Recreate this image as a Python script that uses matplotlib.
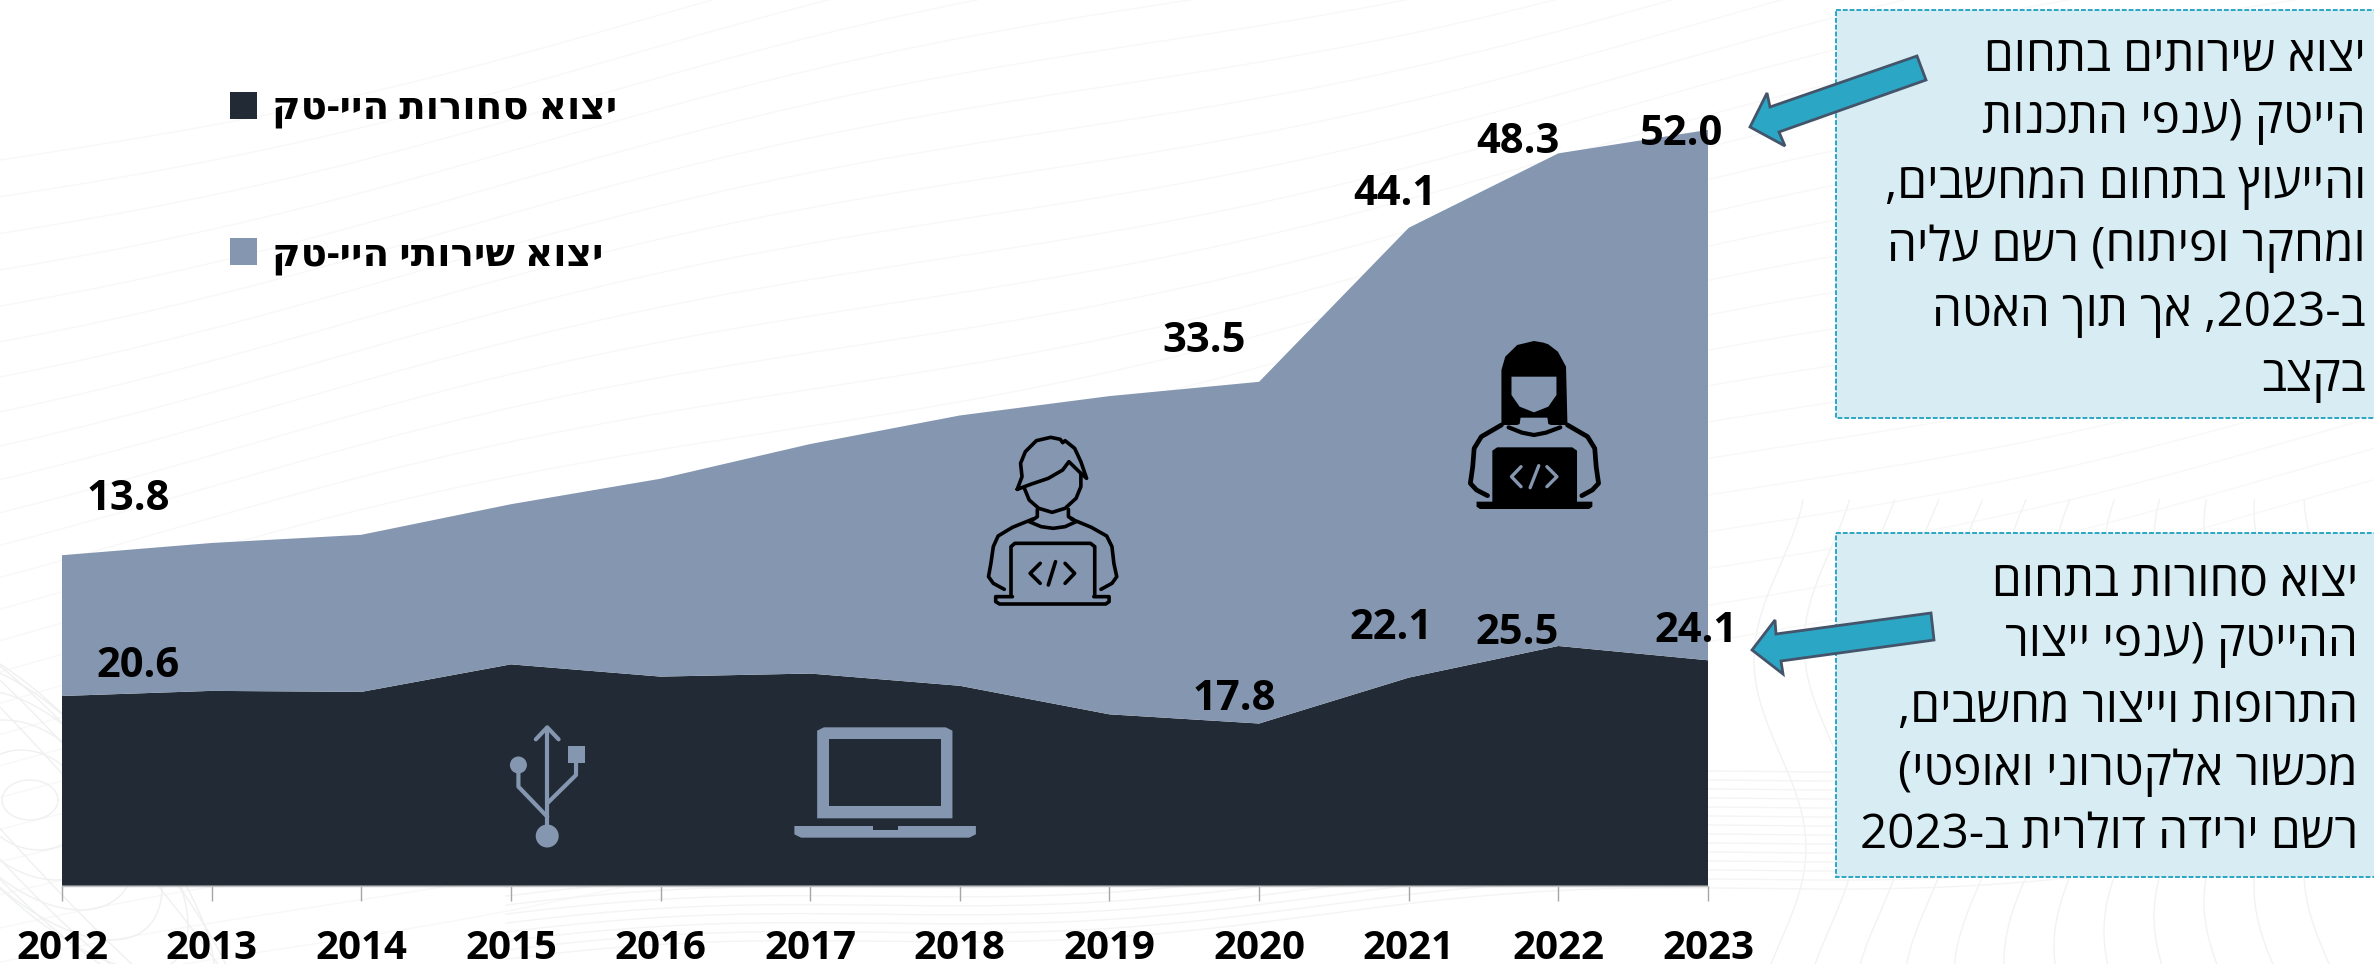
#!/usr/bin/env python3
"""High-tech exports, stacked area chart with two callouts (Hebrew text)."""

import re

import matplotlib
matplotlib.use("Agg")
import matplotlib.pyplot as plt
import numpy as np
from matplotlib.patches import Ellipse, Polygon, Rectangle


# ── Data ───────────────────────────────────────────────────────────────────────

YEARS = [2012, 2013, 2014, 2015, 2016, 2017, 2018, 2019, 2020, 2021, 2022, 2023]

# Area heights. The goods area sits a bit lower than its
# printed labels, so the labels are kept separately.
GOODS = [18.6, 19.1, 19.0, 21.7, 20.5, 20.8, 19.6, 16.8, 15.9, 20.4, 23.5, 22.1]
SERVICES = [13.8, 14.5, 15.4, 15.7, 19.4, 22.5, 26.5, 31.2, 33.5, 44.1, 48.3, 52.0]

GOODS_LABELS = {2012: "20.6", 2020: "17.8", 2021: "22.1", 2022: "25.5", 2023: "24.1"}
SERVICES_LABELS = {2012: "13.8", 2020: "33.5", 2021: "44.1", 2022: "48.3", 2023: "52.0"}

GOODS_NAME = "יצוא סחורות היי-טק"
SERVICES_NAME = "יצוא שירותי היי-טק"

SERVICES_NOTE = [
    "יצוא שירותים בתחום",
    "הייטק (ענפי התכנות",
    "והייעוץ בתחום המחשבים,",
    "ומחקר ופיתוח) רשם עליה",
    "ב-2023, אך תוך האטה",
    "בקצב",
]
GOODS_NOTE = [
    "יצוא סחורות בתחום",
    "ההייטק (ענפי ייצור",
    "התרופות וייצור מחשבים,",
    "מכשור אלקטרוני ואופטי)",
    "רשם ירידה דולרית ב-2023",
]

# ── Style ──────────────────────────────────────────────────────────────────────

W, H = 2374, 964
DARK = "#222A35"
SLATE = "#8496B0"
BOX_FILL = "#D8EDF3"
TEAL = "#2BA6C4"
ARROW_EDGE = "#44546A"
FONT = ["Open Sans", "DejaVu Sans"]

# label offsets from the data point, in pixels (right, up)
GOODS_OFFSETS = {2012: (76, 29), 2020: (-25, 24), 2021: (-18, 49), 2022: (-41, 12), 2023: (-12, 29)}
SERVICES_OFFSETS = {2012: (66, 56), 2020: (-55, 40), 2021: (-14, 33), 2022: (-40, 11), 2023: (-26, -5)}

PX = 72 / 100  # points per pixel at dpi=100


def vis(text):
    """matplotlib has no bidi: turn logical Hebrew into left-to-right drawing order."""
    rev = text[::-1]
    rev = re.sub(r"\d+", lambda m: m.group()[::-1], rev)
    return rev.translate(str.maketrans("()", ")("))


def draw_background(ax):
    # faint contour lines behind everything
    x = np.linspace(0, W, 400)
    for i in range(26):
        y0 = -100 + i * 34
        ax.plot(x, y0 + 260 - 0.22 * x + 14 * np.sin(x / 210 + i / 5),
                color="#F8F8F8", lw=1.0)
    t = np.linspace(0, 2 * np.pi, 200)
    for i in range(9):
        ax.plot(30 + (28 + 26 * i) * np.cos(t), 800 + (20 + 30 * i) * np.sin(t + i / 6),
                color="#EFF0F0", lw=1.0)
    for i in range(12):
        yy = np.linspace(500, 964, 200)
        ax.plot(1780 + i * 50 + 26 * np.sin(yy / 60 + i / 4), yy, color="#F1F3F3", lw=1.0)
    for i in range(14):
        ax.plot(x[x > 500], 964 - i * 9 - 0.06 * (x[x > 500] - 500) + 10 * np.sin(x[x > 500] / 140),
                color="#F4F4F4", lw=1.0)


def zoom3(points):
    # icon coordinates were traced on a crop starting at (900, 320)
    return [(900 + px / 2.09, 320 + py / 3) for px, py in points]


def zoom4(points):
    # same for the crop starting at (0, 640)
    return [(px / 1.493, 640 + py / 3) for px, py in points]


def stroke(ax, points, color="black", lw=2.6):
    xs, ys = zip(*points)
    ax.plot(xs, ys, color=color, lw=lw, solid_capstyle="round", solid_joinstyle="round")


def fill(ax, points, color="black"):
    ax.add_patch(Polygon(points, closed=True, fc=color, ec="none"))


def draw_man(ax):
    lines = [
        [(245, 508), (255, 470), (252, 430), (262, 395), (285, 362), (315, 352), (335, 358),
         (340, 368), (345, 362), (365, 385), (378, 425), (390, 475), (378, 460), (353, 425),
         (340, 450), (310, 475), (275, 492), (245, 508)],
        [(260, 505), (270, 540), (290, 565), (318, 577), (345, 565), (368, 535), (378, 500), (378, 460)],
        [(287, 568), (287, 590), (275, 602)],
        [(352, 568), (352, 590), (362, 598)],
        [(270, 605), (295, 620), (320, 625), (345, 620), (368, 605)],
        [(278, 597), (235, 622), (205, 648), (195, 680), (190, 730), (185, 770), (195, 790), (218, 808)],
        [(358, 597), (400, 622), (432, 648), (443, 680), (447, 730), (453, 770), (443, 790), (420, 808)],
        [(232, 825), (232, 680), (240, 670), (398, 670), (407, 680), (407, 825)],
        [(235, 830), (200, 830), (200, 845), (208, 852), (430, 852), (437, 845), (437, 830), (405, 830)],
        [(293, 730), (272, 760), (293, 790)],
        [(325, 725), (310, 795)],
        [(345, 730), (365, 760), (345, 790)],
    ]
    for line in lines:
        stroke(ax, zoom3(line))


def draw_woman(ax):
    fill(ax, zoom3([(1257, 315), (1257, 150), (1265, 110), (1290, 75), (1325, 63), (1345, 68),
                    (1355, 73), (1375, 95), (1392, 140), (1395, 315)]))
    fill(ax, zoom3([(1278, 170), (1372, 170), (1372, 225), (1355, 260), (1325, 277), (1295, 260),
                    (1278, 225)]), SLATE)
    fill(ax, zoom3([(1297, 293), (1353, 293), (1355, 312), (1380, 325), (1340, 345), (1310, 345),
                    (1272, 325), (1295, 312)]), SLATE)
    stroke(ax, zoom3([(1272, 322), (1300, 338), (1325, 345), (1350, 338), (1380, 322)]), lw=3)
    stroke(ax, zoom3([(1257, 315), (1215, 350), (1200, 385), (1197, 440), (1192, 490), (1205, 510),
                      (1228, 527)]), lw=3.4)
    stroke(ax, zoom3([(1395, 315), (1437, 350), (1452, 385), (1455, 440), (1460, 490), (1447, 510),
                      (1425, 527)]), lw=3.4)
    fill(ax, zoom3([(1238, 548), (1238, 392), (1248, 382), (1405, 382), (1415, 392), (1415, 548)]))
    fill(ax, zoom3([(1205, 545), (1447, 545), (1447, 560), (1440, 567), (1212, 567), (1205, 560)]))
    for line in ([(1298, 440), (1278, 470), (1298, 500)],
                 [(1335, 437), (1317, 503)],
                 [(1352, 440), (1373, 470), (1352, 500)]):
        stroke(ax, zoom3(line), color=SLATE, lw=2.4)


def draw_laptop(ax):
    fill(ax, zoom4([(1220, 535), (1220, 272), (1230, 262), (1412, 262), (1422, 272), (1422, 535)]), SLATE)
    fill(ax, zoom4([(1238, 297), (1405, 297), (1405, 498), (1238, 498)]), DARK)
    fill(ax, zoom4([(1186, 558), (1457, 558), (1457, 583), (1447, 593), (1196, 593), (1186, 583)]), SLATE)
    fill(ax, zoom4([(1303, 558), (1340, 558), (1340, 570), (1303, 570)]), DARK)


def draw_usb(ax):
    stroke(ax, zoom4([(817, 270), (817, 570)]), SLATE, 3)
    stroke(ax, zoom4([(800, 298), (817, 262), (834, 298)]), SLATE, 3)
    stroke(ax, zoom4([(774, 395), (774, 440), (817, 530)]), SLATE, 3)
    stroke(ax, zoom4([(860, 365), (860, 405), (817, 490)]), SLATE, 3)
    fill(ax, zoom4([(848, 318), (873, 318), (873, 370), (848, 370)]), SLATE)
    for cx, cy, d in ((817, 588, 23), (774, 375, 17)):
        (px, py), = zoom4([(cx, cy)])
        ax.add_patch(Ellipse((px, py), d, d, fc=SLATE, ec="none"))


def draw_note(ax, box, lines, right, ys, arrow):
    left, top, bottom = box
    ax.add_patch(Rectangle((left, top), W + 20 - left, bottom - top, fc=BOX_FILL, ec=TEAL,
                           lw=1.4, ls=(0, (2.5, 1))))
    for line, y in zip(lines, ys):
        ax.text(right, y, vis(line), ha="right", va="center", fontsize=34.3, color="black",
                family=FONT)
    ax.add_patch(Polygon(arrow, closed=True, fc=TEAL, ec=ARROW_EDGE, lw=2))


# ── Figure ─────────────────────────────────────────────────────────────────────

fig = plt.figure(figsize=(W / 100, H / 100), dpi=100, facecolor="white")

bg = fig.add_axes([0, 0, 1, 1], zorder=0)
bg.set_xlim(0, W)
bg.set_ylim(H, 0)
bg.axis("off")
draw_background(bg)

base_px = 885.7
ax = fig.add_axes([62 / W, (H - base_px) / H, 1646 / W, 816 / H], zorder=1)
ax.patch.set_alpha(0)
ax.stackplot(YEARS, GOODS, SERVICES, colors=[DARK, SLATE], lw=0,
             labels=[vis(GOODS_NAME), vis(SERVICES_NAME)])
ax.set_xlim(YEARS[0], YEARS[-1])
ax.set_ylim(0, 80)
ax.set_yticks([])
ax.set_xticks(YEARS)
ax.set_xticklabels([str(y) for y in YEARS], fontsize=29, fontweight="bold", family=FONT)
ax.tick_params(axis="x", length=10.5, width=1, color="#A6A6A6", pad=21)
for side in ("left", "right", "top"):
    ax.spines[side].set_visible(False)
ax.spines["bottom"].set_color("#BFBFBF")
ax.spines["bottom"].set_linewidth(1)

totals = dict(zip(YEARS, np.add(GOODS, SERVICES)))
goods_top = dict(zip(YEARS, GOODS))
for labels, offsets, tops in ((GOODS_LABELS, GOODS_OFFSETS, goods_top),
                              (SERVICES_LABELS, SERVICES_OFFSETS, totals)):
    for year, text in labels.items():
        dx, dy = offsets[year]
        ax.annotate(text, xy=(year, tops[year]), xytext=(dx * PX, dy * PX),
                    textcoords="offset points", ha="center", va="center",
                    fontsize=30, fontweight="bold", family=FONT, color="black",
                    annotation_clip=False, zorder=6)

legend = ax.legend(loc="upper left", bbox_to_anchor=(230 / W, 1 - 89 / H),
                   bbox_transform=fig.transFigure, frameon=False, borderpad=0, borderaxespad=0,
                   handlelength=0.7, handleheight=0.7, handletextpad=0.39, labelspacing=2.75,
                   prop={"family": FONT, "weight": "bold", "size": 28})
for txt in legend.get_texts():
    txt.set_color("black")

over = fig.add_axes([0, 0, 1, 1], zorder=2)
over.set_xlim(0, W)
over.set_ylim(H, 0)
over.axis("off")
over.patch.set_alpha(0)

draw_man(over)
draw_woman(over)
draw_laptop(over)
draw_usb(over)

draw_note(over, (1835.5, 10, 418), SERVICES_NOTE, 2366, [58, 121, 186, 249, 314, 379],
          [(1750, 127), (1767, 93), (1770, 107), (1917, 56), (1926, 80), (1779, 132), (1785, 146)])
draw_note(over, (1835.5, 533, 877), GOODS_NOTE, 2358, [583, 644, 709, 773, 835],
          [(1752, 650), (1775, 620), (1776, 634), (1931, 613), (1934, 640), (1781, 661), (1783, 674)])

fig.savefig("out.png", dpi=100)
